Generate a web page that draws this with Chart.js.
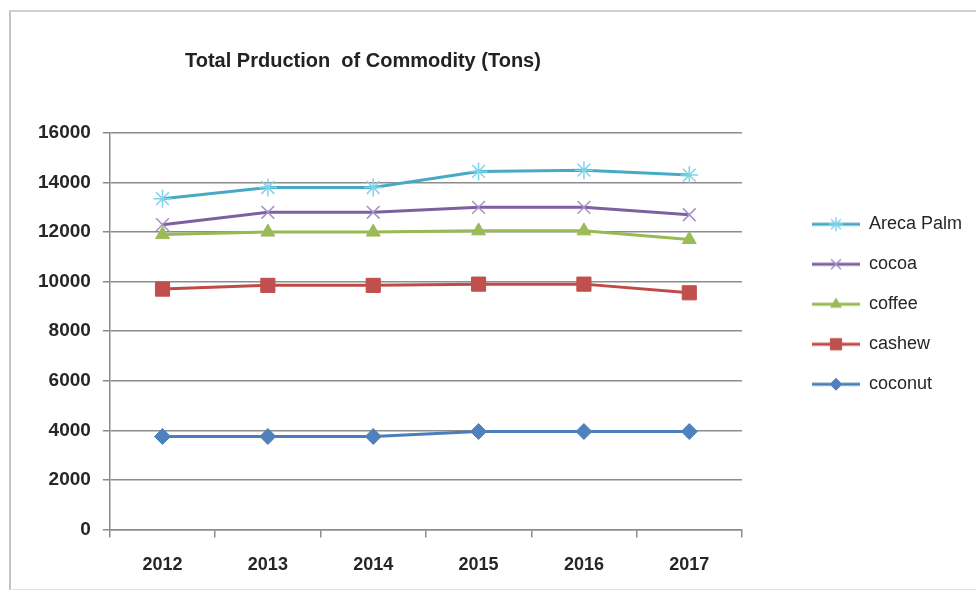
<!DOCTYPE html>
<html>
<head>
<meta charset="utf-8">
<script src="https://cdn.jsdelivr.net/npm/chart.js@4/dist/chart.umd.min.js"></script>
<style>
  html, body { margin: 0; padding: 0; background: #fff; }
  #frame { position: absolute; left: 9px; top: 10px; width: 967px; height: 577px;
           border-left: 2px solid #c4c4c4; border-top: 2px solid #d0d0d0; border-bottom: 1px solid #e2e2e2; }
  #wrap { position: absolute; left: 0; top: 0; width: 976px; height: 596px; }
</style>
</head>
<body>
<div id="frame"></div>
<div id="wrap"><canvas id="chart" width="976" height="596"></canvas></div>
<script>
// chart data
const years = ['2012', '2013', '2014', '2015', '2016', '2017'];
const arecaPalm = [13350, 13800, 13800, 14450, 14500, 14300];
const cocoa = [12300, 12800, 12800, 13000, 13000, 12700];
const coffee = [11900, 12000, 12000, 12050, 12050, 11700];
const cashew = [9700, 9850, 9850, 9900, 9900, 9550];
const coconut = [3750, 3750, 3750, 3950, 3950, 3950];
const yMax = 16000;
const yStep = 2000;
const chartTitle = 'Total Prduction  of Commodity (Tons)';

/* series styles (Excel 2007 palette) */
const series = [
  {label: 'coconut', data: coconut, line: '#4a7ebb', mark: '#4f81bd', style: 'rectRot', r: 8},
  {label: 'cashew', data: cashew, line: '#be4b48', mark: '#c0504d', style: 'rect', r: 10},
  {label: 'coffee', data: coffee, line: '#98b954', mark: '#9bbb59', style: 'triangle', r: 8},
  {label: 'cocoa', data: cocoa, line: '#7d60a0', mark: '#a590c6', style: 'crossRot', r: 9},
  {label: 'Areca Palm', data: arecaPalm, line: '#46aac5', mark: '#7fd3ea', style: 'star', r: 9},
];

// legend icon: a short line with the marker on it
function makeIcon(s){
  const c = document.createElement('canvas');
  c.width = 96; c.height = 22;
  const ctx = c.getContext('2d');
  ctx.strokeStyle = s.line;
  ctx.lineWidth = 3;
  ctx.beginPath();
  ctx.moveTo(48, 11);
  ctx.lineTo(96, 11);
  ctx.stroke();
  ctx.fillStyle = s.mark;
  ctx.strokeStyle = s.mark;
  ctx.lineWidth = s.style === 'star' || s.style === 'crossRot' ? 1.5 : 1;
  Chart.helpers.drawPoint(ctx, {pointStyle: s.style, radius: s.r - 2, borderWidth: ctx.lineWidth, rotation: 0}, 72, 11);
  return c;
}

const icons = {};
series.forEach(s => { icons[s.label] = makeIcon(s); });

const titlePlugin = {
  id: 'plainTitle',
  afterDraw(chart){
    const ctx = chart.ctx;
    ctx.save();
    ctx.font = 'bold 20px "Liberation Sans", Arial, sans-serif';
    ctx.fillStyle = '#222';
    ctx.textBaseline = 'middle';
    ctx.fillText(chartTitle, 185, 61);
    ctx.restore();
  }
};

new Chart(document.getElementById('chart'), {
  type: 'line',
  data: {
    labels: years,
    datasets: series.map(s => ({
      label: s.label,
      data: s.data,
      borderColor: s.line,
      borderWidth: 3,
      backgroundColor: s.mark,
      pointStyle: s.style,
      pointRadius: s.r,
      pointBorderWidth: s.style === 'star' || s.style === 'crossRot' ? 1.5 : 1,
      pointBorderColor: s.mark,
      pointBackgroundColor: s.mark,
      fill: false,
      tension: 0,
    }))
  },
  options: {
    responsive: false,
    animation: false,
    layout: {padding: {left: 26, top: 133, right: 4, bottom: 3}},
    scales: {
      x: {
        offset: true,
        grid: {offset: true, drawOnChartArea: false, drawTicks: true, tickLength: 8, color: '#8c8c8c', lineWidth: 1.5},
        border: {display: true, color: '#8c8c8c', width: 1.5},
        ticks: {color: '#262626', padding: 17, font: {family: '"Liberation Sans", Arial, sans-serif', size: 18, weight: 'bold'}},
      },
      y: {
        min: 0,
        max: yMax,
        ticks: {
          stepSize: yStep, color: '#262626', padding: 12,
          font: {family: '"Liberation Sans", Arial, sans-serif', size: 19, weight: 'bold'},
          callback: v => String(v)
        },
        grid: {color: '#8c8c8c', lineWidth: 1.5, tickLength: 7},
        border: {display: true, color: '#8c8c8c', width: 1.5},
      }
    },
    plugins: {
      tooltip: {enabled: false},
      legend: {
        position: 'right',
        align: 'start',
        reverse: true,
        title: {display: true, text: '', font: {size: 1}, padding: {top: 59, bottom: 0}},
        labels: {
          usePointStyle: true,
          pointStyleWidth: 96,
          padding: 22,
          color: '#262626',
          font: {family: '"Liberation Sans", Arial, sans-serif', size: 18},
          generateLabels(chart){
            return Chart.defaults.plugins.legend.labels.generateLabels(chart).map(item => {
              item.pointStyle = icons[item.text];
              return item;
            });
          }
        }
      }
    }
  },
  plugins: [titlePlugin]
});
</script>
</body>
</html>
